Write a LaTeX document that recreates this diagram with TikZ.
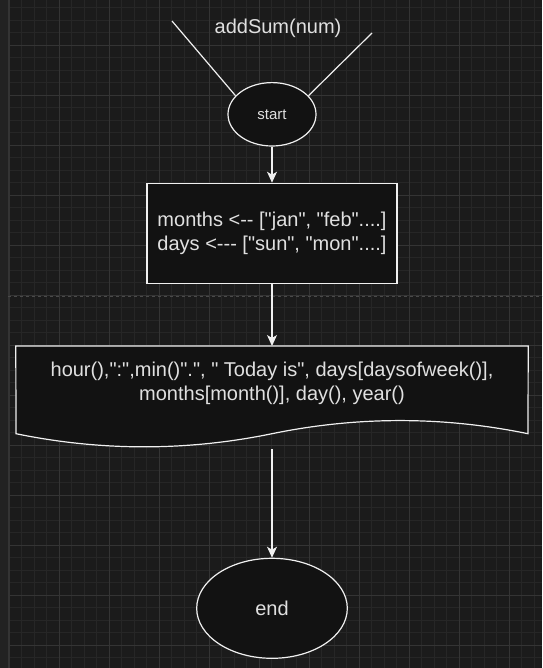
\documentclass[tikz,border=0pt]{standalone}
\usepackage{fontspec}
\newfontfamily\chartfont{Liberation Sans}
\usetikzlibrary{arrows.meta,shapes.geometric}

\definecolor{canvas}{HTML}{1B1B1B}
\definecolor{sidestrip}{HTML}{222222}
\definecolor{gridminor}{HTML}{262626}
\definecolor{gridmajor}{HTML}{343434}
\definecolor{pagebreak}{HTML}{4A4A4A}
\definecolor{shapefill}{HTML}{121212}
\definecolor{inkline}{HTML}{F0F0F0}
\definecolor{inktext}{HTML}{E0E0E0}

\tikzset{
  flow/.style={draw=inkline, line width=1.2pt},
  arr/.style={flow, -{Stealth[length=11pt, width=10pt, inset=3pt]}},
  txt/.style={text=inktext, font=\chartfont\fontsize{20}{24}\selectfont, align=center, inner sep=0pt},
  terminal/.style={ellipse, flow, fill=shapefill, inner sep=0pt, text=inktext},
  procbox/.style={rectangle, flow, fill=shapefill, inner sep=0pt, txt}
}

\begin{document}
\begin{tikzpicture}[x=1pt, y=-1pt]
  % Canvas and grid
  \fill[canvas] (0,0) rectangle (542,668);
  \useasboundingbox (0,0) rectangle (542,668);
  \foreach \i in {0,...,42}
    \draw[gridminor, line width=0.6pt] ({9+12.5*\i},0) -- ({9+12.5*\i},668);
  \foreach \i in {0,...,52}
    \draw[gridminor, line width=0.6pt] (0,{7.5+12.5*\i}) -- (542,{7.5+12.5*\i});
  \foreach \i in {0,...,10}
    \draw[gridmajor, line width=0.7pt] ({9+50*\i},0) -- ({9+50*\i},668);
  \foreach \i in {0,...,12}
    \draw[gridmajor, line width=0.7pt] (0,{45+50*\i}) -- (542,{45+50*\i});
  \fill[sidestrip] (0,0) rectangle (8,668);
  \draw[gridmajor] (8,0) -- (8,668);
  \draw[pagebreak, line width=1pt, dash pattern=on 3pt off 3pt] (8,296) -- (542,296);

  % Title and entry lines
  \node[txt] (title) at (278,28) {addSum(num)};
  \node[terminal, minimum width=88, minimum height=63.4,
        font=\chartfont\fontsize{15}{18}\selectfont] (start) at (272,114.3) {start};
  \coordinate (inl) at (172,21);
  \coordinate (inr) at (372,33);
  \draw[flow] (inl) -- (start.153);
  \draw[flow] (inr) -- (start.27);

  % Arrays
  \node[procbox, minimum width=250, minimum height=100] (init) at (272,233.3)
    {months <{-}{-} ["jan", "feb"....]\\days <{-}{-}{-} ["sun", "mon"....]};

  % Output document
  \node[minimum width=512, minimum height=103, inner sep=0pt] (show) at (272,397.7) {};
  \filldraw[flow, fill=shapefill] (show.north west) -- (show.north east) -- (528,433.7)
    .. controls (442.7,416.2) and (357.3,416.2) .. (272,433.7)
    .. controls (186.7,451.2) and (101.3,451.2) .. (16,433.7) -- cycle;
  \node[txt] (showtext) at (272,383.6)
    {hour(),":",min()".", " Today is", days[daysofweek()],\\months[month()], day(), year()};

  % End
  \node[terminal, minimum width=150.6, minimum height=100,
        font=\chartfont\fontsize{20}{24}\selectfont] (finish) at (272,608.3) {end};

  % Arrows
  \draw[arr] (start) -- (init);
  \draw[arr] (init) -- (show);
  \draw[arr] (show) -- (finish);
\end{tikzpicture}
\end{document}
